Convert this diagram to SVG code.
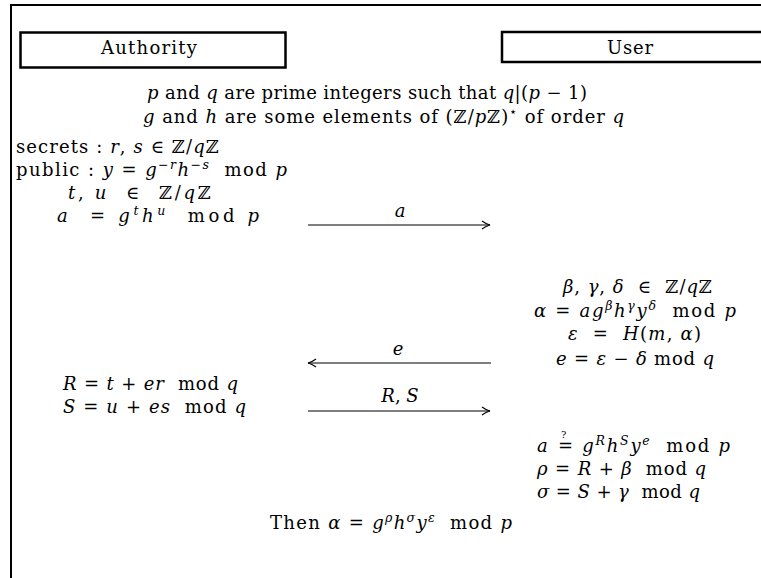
<svg xmlns="http://www.w3.org/2000/svg" width="761" height="578" viewBox="0 0 761 578">
<style>
text{font-family:"DejaVu Serif","Liberation Serif",serif;font-size:18px;fill:#000}
.i{font-style:italic}
.s{font-size:12.5px}
.q{font-size:10px}
.frame{fill:none;stroke:#000;stroke-width:2}
.box{fill:none;stroke:#000;stroke-width:2.5}
.arr{stroke:#000;stroke-width:1.2;fill:none}
</style>
<defs>
<marker id="hd" markerWidth="10" markerHeight="10" refX="9" refY="5" orient="auto" markerUnits="userSpaceOnUse">
<path d="M1,1 Q5,4 9,5 Q5,6 1,9" fill="none" stroke="#000" stroke-width="1.1"/>
</marker>
</defs>
<path class="frame" d="M11,578 V5 H761"/>
<g id="authority"><rect class="box" x="20.5" y="32.5" width="265" height="35"/><text x="149" y="54" text-anchor="middle" textLength="96">Authority</text></g>
<g id="user"><rect class="box" x="502" y="32" width="270" height="30"/><text x="630" y="54" text-anchor="middle" textLength="46">User</text></g>
<g id="common">
<text x="147" y="99" textLength="440"><tspan class="i">p</tspan> and <tspan class="i">q</tspan> are prime integers such that <tspan class="i">q</tspan>|(<tspan class="i">p</tspan> − 1)</text>
<text x="143" y="123" textLength="481"><tspan class="i">g</tspan> and <tspan class="i">h</tspan> are some elements of (ℤ/<tspan class="i">p</tspan>ℤ)<tspan class="s" dy="-7">⋆</tspan><tspan dy="7"> of order </tspan><tspan class="i">q</tspan></text>
</g>
<g id="authority-setup">
<text x="16" y="153" textLength="203">secrets : <tspan class="i">r</tspan>, <tspan class="i">s</tspan> ∈ ℤ/<tspan class="i">q</tspan>ℤ</text>
<text x="16" y="176" textLength="271">public : <tspan class="i">y</tspan> = <tspan class="i">g</tspan><tspan class="s" dy="-7">−<tspan class="i">r</tspan></tspan><tspan class="i" dy="7">h</tspan><tspan class="s" dy="-7">−<tspan class="i">s</tspan></tspan><tspan dy="7">&#160; mod </tspan><tspan class="i">p</tspan></text>
<text x="68" y="199" textLength="143"><tspan class="i">t</tspan>,&#160;<tspan class="i">u</tspan>&#160; ∈&#160; ℤ/<tspan class="i">q</tspan>ℤ</text>
<text x="57" y="222" textLength="202"><tspan class="i">a</tspan>&#160; = <tspan class="i">g</tspan><tspan class="s i" dy="-7">t</tspan><tspan class="i" dy="7">h</tspan><tspan class="s i" dy="-7">u</tspan><tspan dy="7">&#160; mod </tspan><tspan class="i">p</tspan></text>
</g>
<g id="user-blind">
<text x="563" y="293" textLength="149"><tspan class="i">β</tspan>,&#160;<tspan class="i">γ</tspan>,&#160;<tspan class="i">δ</tspan>&#160; ∈&#160; ℤ/<tspan class="i">q</tspan>ℤ</text>
<text x="534" y="317" textLength="202"><tspan class="i">α</tspan> = <tspan class="i">ag</tspan><tspan class="s i" dy="-7">β</tspan><tspan class="i" dy="7">h</tspan><tspan class="s i" dy="-7">γ</tspan><tspan class="i" dy="7">y</tspan><tspan class="s i" dy="-7">δ</tspan><tspan dy="7">&#160; mod </tspan><tspan class="i">p</tspan></text>
<text x="568" y="340" textLength="133"><tspan class="i">ε</tspan>&#160; =&#160; <tspan class="i">H</tspan>(<tspan class="i">m</tspan>,&#160;<tspan class="i">α</tspan>)</text>
<text x="556" y="365" textLength="158"><tspan class="i">e</tspan> = <tspan class="i">ε</tspan> − <tspan class="i">δ</tspan> mod <tspan class="i">q</tspan></text>
</g>
<g id="authority-response">
<text x="63" y="390" textLength="175"><tspan class="i">R</tspan> = <tspan class="i">t</tspan> + <tspan class="i">er</tspan>&#160; mod <tspan class="i">q</tspan></text>
<text x="63" y="413" textLength="183"><tspan class="i">S</tspan> = <tspan class="i">u</tspan> + <tspan class="i">es</tspan>&#160; mod <tspan class="i">q</tspan></text>
</g>
<g id="user-verify">
<text x="537" y="452" textLength="193"><tspan class="i">a</tspan> <tspan class="q" dx="4" dy="-14">?</tspan><tspan dx="-10" dy="14">=</tspan> <tspan class="i">g</tspan><tspan class="s i" dy="-7">R</tspan><tspan class="i" dy="7">h</tspan><tspan class="s i" dy="-7">S</tspan><tspan class="i" dy="7">y</tspan><tspan class="s i" dy="-7">e</tspan><tspan dy="7">&#160; mod </tspan><tspan class="i">p</tspan></text>
<text x="537" y="475" textLength="169"><tspan class="i">ρ</tspan> = <tspan class="i">R</tspan> + <tspan class="i">β</tspan>&#160; mod <tspan class="i">q</tspan></text>
<text x="537" y="498" textLength="163"><tspan class="i">σ</tspan> = <tspan class="i">S</tspan> + <tspan class="i">γ</tspan>&#160; mod <tspan class="i">q</tspan></text>
</g>
<g id="conclusion">
<text x="270" y="529" textLength="242">Then <tspan class="i">α</tspan> = <tspan class="i">g</tspan><tspan class="s i" dy="-7">ρ</tspan><tspan class="i" dy="7">h</tspan><tspan class="s i" dy="-7">σ</tspan><tspan class="i" dy="7">y</tspan><tspan class="s i" dy="-7">ε</tspan><tspan dy="7">&#160; mod </tspan><tspan class="i">p</tspan></text>
</g>
<g id="connectors">
<line class="arr" x1="308" y1="225" x2="490" y2="225" marker-end="url(#hd)"/>
<text x="400" y="217" text-anchor="middle" class="i">a</text>
<line class="arr" x1="491" y1="363" x2="308" y2="363" marker-end="url(#hd)"/>
<text x="398" y="355" text-anchor="middle" class="i">e</text>
<line class="arr" x1="308" y1="411" x2="490" y2="411" marker-end="url(#hd)"/>
<text x="400" y="402" text-anchor="middle"><tspan class="i">R</tspan>, <tspan class="i">S</tspan></text>
</g>
</svg>
